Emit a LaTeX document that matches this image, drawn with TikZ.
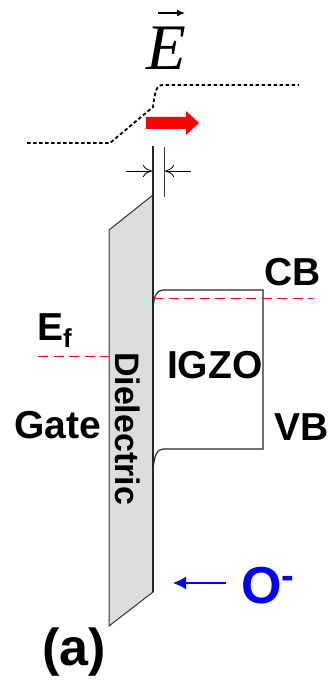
\documentclass[tikz,border=0pt]{standalone}
\usepackage{fontspec}
\setmainfont{Liberation Sans}
\newfontfamily\serifE{Liberation Serif}
\usetikzlibrary{arrows.meta}
\definecolor{dielgray}{RGB}{221,221,221}
\tikzset{
  x=1pt,y=-1pt,
  lbl/.style={inner sep=0pt,outer sep=0pt,anchor=base west,font=\bfseries\fontsize{#1}{#1}\selectfont},
  dotline/.style={line width=1.8pt,dash pattern=on 3.6pt off 2.4pt},
  blackline/.style={line width=1.2pt,draw=black!85},
  efline/.style={line width=1pt,draw=red,dash pattern=on 10pt off 5.5pt},
  thinarrow/.style={line width=0.8pt,-{To[length=9pt,width=12pt,line width=0.8pt]}},
}
\begin{document}
\begin{tikzpicture}
\useasboundingbox (0,0) rectangle (327,684);
% coordinates
\coordinate (dl1) at (27,143);
\coordinate (dl2) at (110,143);
\coordinate (dl3) at (153,107);
\coordinate (dl4) at (163,85);
\coordinate (dl5) at (299,85);
\coordinate (vL) at (153,146);
\coordinate (vLb) at (153,195);
\coordinate (vR) at (164,147);
\coordinate (vRb) at (164,197);
\coordinate (aL) at (126,171);
\coordinate (aLe) at (152,171);
\coordinate (aR) at (191,171);
\coordinate (aRe) at (165,171);
\coordinate (dTL) at (109,230);
\coordinate (dBL) at (109,626);
\coordinate (dBR) at (153,592);
\coordinate (cbA) at (153,307);
\coordinate (cbB) at (163,290);
\coordinate (cbC) at (263,290);
\coordinate (vbC) at (263,449);
\coordinate (vbB) at (163,449);
\coordinate (vbA) at (153,470);
\coordinate (cbL) at (153,298.6);
\coordinate (cbR) at (313,298.6);
\coordinate (efL) at (38,356);
\coordinate (efR) at (109,356);
\coordinate (blueS) at (226,583);
\coordinate (blueE) at (173,583);
\coordinate (vecS) at (158,13);
\coordinate (vecE) at (185,13);
% dielectric
\filldraw[fill=dielgray,draw=black!80,line width=1pt] (dTL) -- (vLb) -- (dBR) -- (dBL) -- cycle;
\draw[blackline] (vL) -- (vLb) -- (dBR);
\draw[line width=1pt,black!75] (vR) -- (vRb);
% dotted band
\draw[dotline] (dl1) -- (dl2) -- (dl3) .. controls (155,92) and (156,85) .. (dl4) -- (dl5);
% red arrow
\fill[red] (146,117) -- (186,117) -- (186,111) -- (199,123) -- (186,135) -- (186,129) -- (146,129) -- cycle;
% thickness arrows
\draw[thinarrow] (aL) -- (aLe);
\draw[thinarrow] (aR) -- (aRe);
% IGZO band
\draw[blackline] (cbA) .. controls (154,296) and (157,290) .. (cbB) -- (cbC) -- (vbC) -- (vbB) .. controls (157,449) and (154,456) .. (vbA);
% Fermi lines
\draw[efline] (cbL) -- (cbR);
\draw[efline] (efL) -- (efR);
% blue arrow
\draw[blue,line width=1.4pt,-{Latex[length=13pt,width=13pt]}] (blueS) -- (blueE);
\draw[line width=1.2pt,-{Latex[length=8pt,width=7pt]}] (vecS) -- (vecE);
% text
\node[inner sep=0pt,anchor=base west,font=\serifE\itshape\fontsize{65}{65}\selectfont] (Elabel) at (146,70) {E};
\node[lbl=39] (cb) at (264,285) {CB};
\node[lbl=39] (igzo) at (167,378) {IGZO};
\node[lbl=39] (vb) at (274,440) {VB};
\node[lbl=39] (gate) at (14,438) {Gate};
\node[lbl=39] (ef) at (37,340) {E\raisebox{-7pt}{\fontsize{26}{26}\selectfont f}};
\node[lbl=34,rotate=-90] (diel) at (115,352) {Dielectric};
\node[lbl=52] (a) at (42,665) {(a)};
\node[lbl=52,text=blue] (oion) at (241,603) {O\raisebox{15pt}{\fontsize{38}{38}\selectfont -}};
\end{tikzpicture}
\end{document}
